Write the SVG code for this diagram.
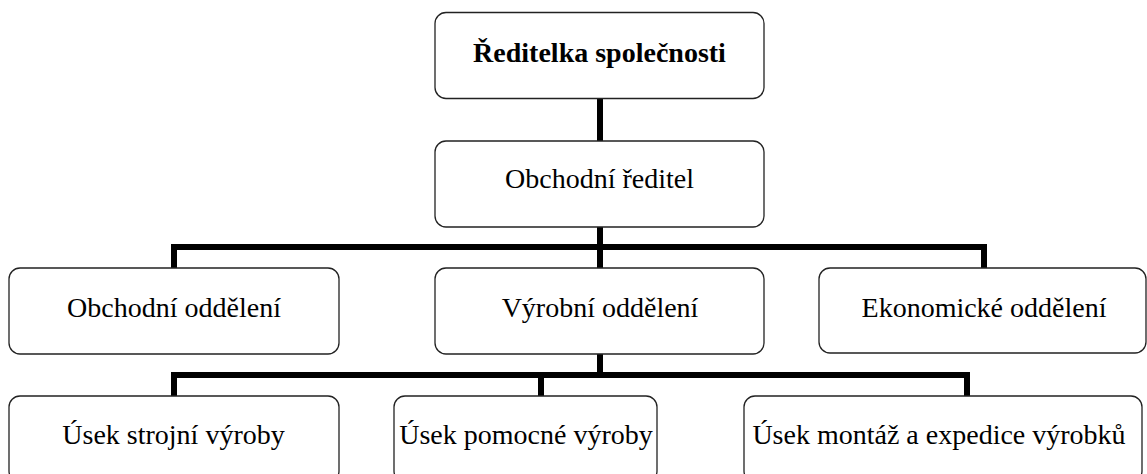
<svg xmlns="http://www.w3.org/2000/svg" width="1147" height="474" viewBox="0 0 1147 474">
<style>
.box{fill:#fff;stroke:#222;stroke-width:1.3}
.t{font-family:"Liberation Serif","Times New Roman",serif;font-size:28px;fill:#000;text-anchor:middle}
.b{font-weight:bold}
.c{fill:none;stroke:#000;stroke-width:6;stroke-linejoin:miter}
</style>
<rect width="1147" height="474" fill="#fff"/>
<g id="connectors">
<path class="c" d="M600 98V141"/>
<path class="c" d="M600 227V268"/>
<path class="c" d="M174 268V247H984V268"/>
<path class="c" d="M600 354V375"/>
<path class="c" d="M174 396V375H967V396"/>
<path class="c" d="M541 375V396"/>
</g>
<g id="n1"><rect class="box" x="435" y="12.5" width="329" height="86" rx="11"/><text class="t b" x="599.5" y="62">Ředitelka společnosti</text></g>
<g id="n2"><rect class="box" x="435" y="141" width="329" height="86" rx="11"/><text class="t" x="599.5" y="188">Obchodní ředitel</text></g>
<g id="n3"><rect class="box" x="9" y="268" width="330" height="86" rx="11"/><text class="t" x="174" y="317">Obchodní oddělení</text></g>
<g id="n4"><rect class="box" x="435" y="268" width="329" height="86" rx="11"/><text class="t" x="600" y="317">Výrobní oddělení</text></g>
<g id="n5"><rect class="box" x="819" y="268" width="327" height="85" rx="11"/><text class="t" x="984" y="317">Ekonomické oddělení</text></g>
<g id="n6"><rect class="box" x="9" y="396" width="330" height="86" rx="11"/><text class="t" x="173.5" y="444">Úsek strojní výroby</text></g>
<g id="n7"><rect class="box" x="394" y="396" width="263" height="86" rx="11"/><text class="t" x="526" y="444">Úsek pomocné výroby</text></g>
<g id="n8"><rect class="box" x="744" y="396" width="398" height="86" rx="11"/><text class="t" x="939" y="444">Úsek montáž a expedice výrobků</text></g>
</svg>
